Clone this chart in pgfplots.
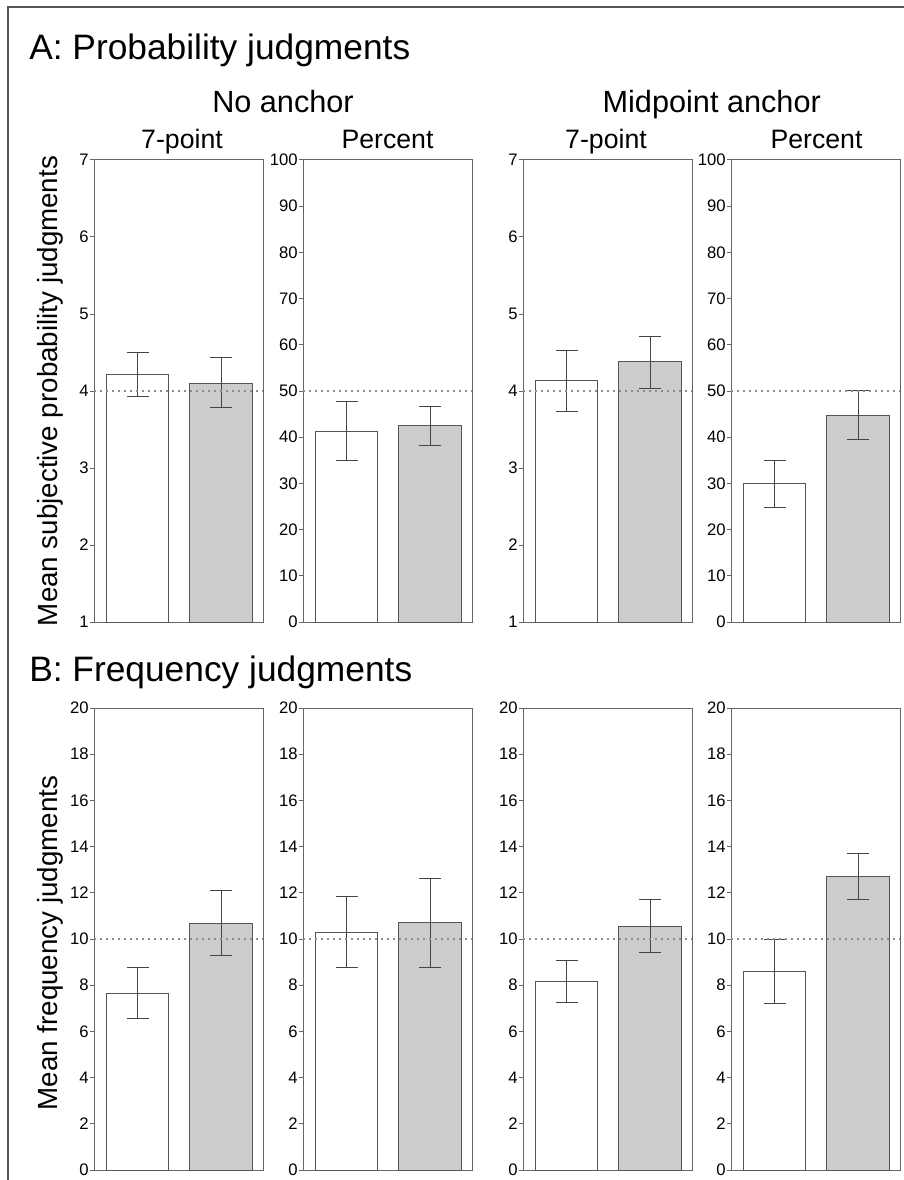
\documentclass[border=0pt]{standalone}
\usepackage{fontspec}
\setmainfont{Liberation Sans}
\usepackage{pgfplots}
\usepackage{pgfplotstable}
\pgfplotsset{compat=1.18}

\definecolor{axisgray}{HTML}{666666}
\definecolor{edgegray}{HTML}{555555}
\definecolor{errgray}{HTML}{444444}
\definecolor{barfill}{HTML}{CCCCCC}
\definecolor{refgray}{HTML}{8C8C8C}
\definecolor{framegray}{HTML}{555555}

% x: 0 = first condition (white), 1 = second condition (grey)
% y: mean, ep / em: error bar above / below the mean
\pgfplotstableread{
x y ep em
0 4.22 0.28 0.29
1 4.10 0.33 0.32
}\probNoSeven
\pgfplotstableread{
x y ep em
0 41.3 6.4 6.4
1 42.5 4.1 4.2
}\probNoPct
\pgfplotstableread{
x y ep em
0 4.14 0.39 0.41
1 4.38 0.33 0.35
}\probMidSeven
\pgfplotstableread{
x y ep em
0 30.0 5.0 5.2
1 44.8 5.4 5.4
}\probMidPct
\pgfplotstableread{
x y ep em
0 7.65 1.10 1.07
1 10.69 1.40 1.40
}\freqNoSeven
\pgfplotstableread{
x y ep em
0 10.30 1.53 1.55
1 10.70 1.91 1.92
}\freqNoPct
\pgfplotstableread{
x y ep em
0 8.14 0.92 0.91
1 10.55 1.16 1.14
}\freqMidSeven
\pgfplotstableread{
x y ep em
0 8.58 1.41 1.36
1 12.71 0.99 1.00
}\freqMidPct

\pgfplotsset{
  panel/.style={
    scale only axis, width=126.75pt, height=346.5pt,
    xmin=-0.52, xmax=1.5, xtick=\empty,
    axis line style={draw=axisgray, line width=0.75pt},
    ytick pos=left, tick align=outside, major tick length=3.2pt,
    every tick/.style={draw=axisgray, line width=0.75pt},
    yticklabel style={font=\fontsize{12.5}{14}\selectfont, text=black, inner sep=0.6pt},
    /pgf/number format/assume math mode=true,
  },
  meanbar/.style={
    ybar, bar width=0.75, bar shift=0pt, draw=edgegray, line width=0.75pt,
    /pgfplots/error bars/y dir=both,
    /pgfplots/error bars/y explicit,
    /pgfplots/error bars/error bar style={draw=errgray, line width=0.75pt},
    /pgfplots/error bars/error mark options={draw=errgray, line width=0.75pt, mark size=8.25pt, rotate=90},
  },
  refline/.style={refgray, line width=0.9pt, dash pattern=on 1.2pt off 3.3pt},
}

% one panel: #1 position, #2 ymin, #3 ymax, #4 ticks, #5 reference level, #6 table
\newcommand{\panel}[6]{%
  \begin{axis}[panel, at={#1}, anchor=south west, ymin=#2, ymax=#3, ytick={#4}]
    \addplot[fill=white, skip coords between index={1}{2}, meanbar]
      table[x=x, y=y, y error plus=ep, y error minus=em] {#6};
    \addplot[fill=barfill, skip coords between index={0}{1}, meanbar]
      table[x=x, y=y, y error plus=ep, y error minus=em] {#6};
    \addplot[refline] coordinates {(-0.52,#5) (1.5,#5)};
  \end{axis}}

\begin{document}
\begin{tikzpicture}
  \useasboundingbox (0pt,0pt) rectangle (677.25pt,-885pt);
  \draw[framegray, line width=1.1pt] (6pt,-890pt) -- (6pt,-5.25pt) -- (680pt,-5.25pt);

  % A: probability judgments
  \panel{(70.5pt,-466.5pt)}{1}{7}{1,2,...,7}{4}{\probNoSeven}
  \panel{(227.25pt,-466.5pt)}{0}{100}{0,10,...,100}{50}{\probNoPct}
  \panel{(392.25pt,-466.5pt)}{1}{7}{1,2,...,7}{4}{\probMidSeven}
  \panel{(548.25pt,-466.5pt)}{0}{100}{0,10,...,100}{50}{\probMidPct}

  % B: frequency judgments
  \panel{(70.5pt,-877.5pt)}{0}{20}{0,2,...,20}{10}{\freqNoSeven}
  \panel{(227.25pt,-877.5pt)}{0}{20}{0,2,...,20}{10}{\freqNoPct}
  \panel{(392.25pt,-877.5pt)}{0}{20}{0,2,...,20}{10}{\freqMidSeven}
  \panel{(548.25pt,-877.5pt)}{0}{20}{0,2,...,20}{10}{\freqMidPct}

  % headings
  \begin{scope}[every node/.style={inner sep=0pt}]
    \node[anchor=base west, font=\fontsize{26.5}{30}\selectfont] at (21.75pt,-45pt) {A: Probability judgments};
    \node[anchor=base west, font=\fontsize{26.5}{30}\selectfont] at (21.75pt,-511.3pt) {B: Frequency judgments};
    \node[anchor=base, font=\fontsize{23}{26}\selectfont] at (212.25pt,-84.4pt) {No anchor};
    \node[anchor=base, font=\fontsize{23}{26}\selectfont] at (533.8pt,-84.4pt) {Midpoint anchor};
    \node[anchor=base, font=\fontsize{20}{24}\selectfont] at (136.5pt,-111.2pt) {7-point};
    \node[anchor=base, font=\fontsize{20}{24}\selectfont] at (290.6pt,-111.2pt) {Percent};
    \node[anchor=base, font=\fontsize{20}{24}\selectfont] at (454.5pt,-111.2pt) {7-point};
    \node[anchor=base, font=\fontsize{20}{24}\selectfont] at (612.4pt,-111.2pt) {Percent};
    \node[anchor=base, rotate=90, font=\fontsize{20.8}{24}\selectfont] at (42.75pt,-293.25pt) {Mean subjective probability judgments};
    \node[anchor=base, rotate=90, font=\fontsize{20.8}{24}\selectfont] at (42.75pt,-707.25pt) {Mean frequency judgments};
  \end{scope}
\end{tikzpicture}
\end{document}
